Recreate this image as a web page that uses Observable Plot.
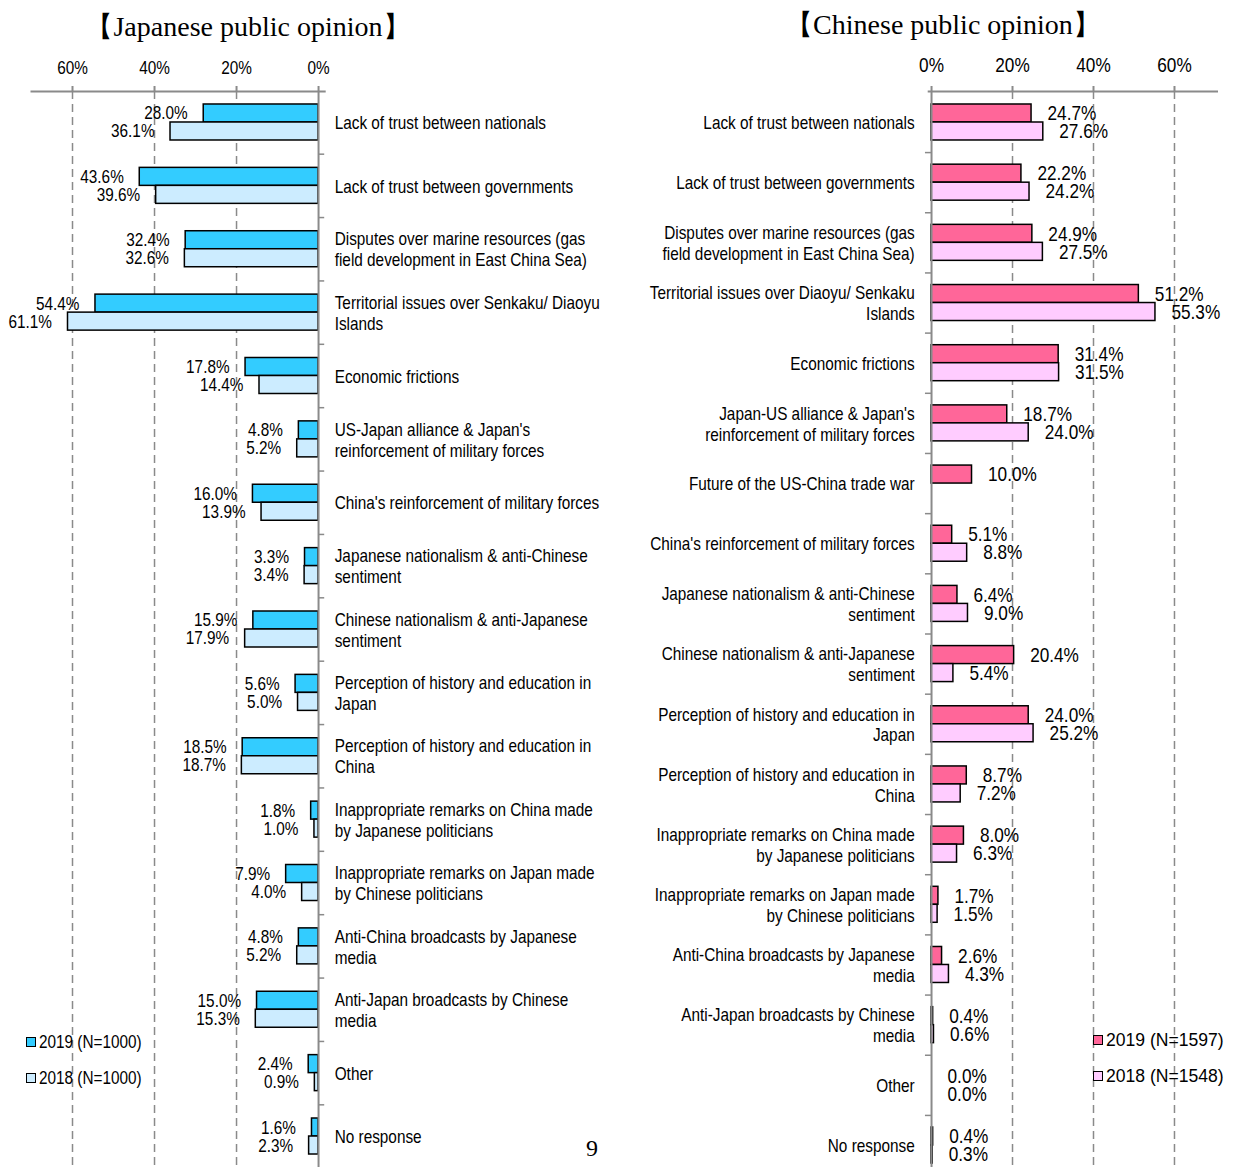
<!DOCTYPE html>
<html><head><meta charset="utf-8">
<script src="https://cdn.jsdelivr.net/npm/d3@7"></script>
<script src="https://cdn.jsdelivr.net/npm/@observablehq/plot@0.6"></script>
<style>
html,body{margin:0;padding:0;background:#fff;overflow:hidden;}
#wrap{position:relative;width:1236px;height:1167px;overflow:hidden;background:#fff;}
.title{position:absolute;font-family:"Liberation Serif","Times New Roman",serif;font-size:28px;color:#000;white-space:nowrap;transform:translate(-50%,-50%);line-height:1;}
.panel{position:absolute;top:0;}
.legend{position:absolute;font-family:"Liberation Sans",Arial,sans-serif;font-size:18.7px;color:#000;}
.item{display:flex;align-items:center;height:20px;margin-bottom:16px;white-space:nowrap;}
.sw{width:8px;height:8px;border:1.5px solid #000;margin-right:3px;flex:none;}
.nar{display:inline-block;transform-origin:left center;}
.page{position:absolute;font-family:"Liberation Serif","Times New Roman",serif;font-size:24px;transform:translate(-50%,-50%);line-height:1;}
</style></head>
<body><div id="wrap">
<div class="title" style="left:248px;top:27px">【Japanese public opinion】</div>
<div class="title" style="left:943px;top:25px">【Chinese public opinion】</div>
<div class="panel" id="left" style="left:0px"></div>
<div class="panel" id="right" style="left:620px"></div>
<div class="legend" id="legJ" style="left:26px;top:1032px"></div>
<div class="legend" id="legC" style="left:1093px;top:1030px"></div>
<div class="page" style="left:592px;top:1148px">9</div>
</div>
<script>
const FONT = '"Liberation Sans",Arial,sans-serif';
const FS = 18.7;
const NARROW = 0.82;

// Japanese public opinion
const catsJ = [
  "Lack of trust between nationals",
  "Lack of trust between governments",
  "Disputes over marine resources (gas\nfield development in East China Sea)",
  "Territorial issues over Senkaku/ Diaoyu\nIslands",
  "Economic frictions",
  "US-Japan alliance & Japan's\nreinforcement of military forces",
  "China's reinforcement of military forces",
  "Japanese nationalism & anti-Chinese\nsentiment",
  "Chinese nationalism & anti-Japanese\nsentiment",
  "Perception of history and education in\nJapan",
  "Perception of history and education in\nChina",
  "Inappropriate remarks on China made\nby Japanese politicians",
  "Inappropriate remarks on Japan made\nby Chinese politicians",
  "Anti-China broadcasts by Japanese\nmedia",
  "Anti-Japan broadcasts by Chinese\nmedia",
  "Other",
  "No response"
];
const j2019 = [28.0, 43.6, 32.4, 54.4, 17.8, 4.8, 16.0, 3.3, 15.9, 5.6, 18.5, 1.8, 7.9, 4.8, 15.0, 2.4, 1.6];
const j2018 = [36.1, 39.6, 32.6, 61.1, 14.4, 5.2, 13.9, 3.4, 17.9, 5.0, 18.7, 1.0, 4.0, 5.2, 15.3, 0.9, 2.3];

// Chinese public opinion
const catsC = [
  "Lack of trust between nationals",
  "Lack of trust between governments",
  "Disputes over marine resources (gas\nfield development in East China Sea)",
  "Territorial issues over Diaoyu/ Senkaku\nIslands",
  "Economic frictions",
  "Japan-US alliance & Japan's\nreinforcement of military forces",
  "Future of the US-China trade war",
  "China's reinforcement of military forces",
  "Japanese nationalism & anti-Chinese\nsentiment",
  "Chinese nationalism & anti-Japanese\nsentiment",
  "Perception of history and education in\nJapan",
  "Perception of history and education in\nChina",
  "Inappropriate remarks on China made\nby Japanese politicians",
  "Inappropriate remarks on Japan made\nby Chinese politicians",
  "Anti-China broadcasts by Japanese\nmedia",
  "Anti-Japan broadcasts by Chinese\nmedia",
  "Other",
  "No response"
];
const c2019 = [24.7, 22.2, 24.9, 51.2, 31.4, 18.7, 10.0, 5.1, 6.4, 20.4, 24.0, 8.7, 8.0, 1.7, 2.6, 0.4, 0.0, 0.4];
const c2018 = [27.6, 24.2, 27.5, 55.3, 31.5, 24.0, null, 8.8, 9.0, 5.4, 25.2, 7.2, 6.3, 1.5, 4.3, 0.6, 0.0, 0.3];

const xTicks = [0, 20, 40, 60];
const gridTicks = [20, 40, 60];
const yearsJ = ["2019 (N=1000)", "2018 (N=1000)"];
const yearsC = ["2019 (N=1597)", "2018 (N=1548)"];
const colJ = ["#33CCFF", "#CCECFF"];
const colC = ["#FF6699", "#FFCCFF"];

function rowsOf(cats, a, b) {
  return cats.map((c, i) => ({cat: c, v19: a[i], v18: b[i]}));
}
const fmt = v => v.toFixed(1) + "%";
const GRAY = "#8a8a8a";

function narrowText(svg) {
  svg.querySelectorAll("text").forEach(t => {
    const x = +t.getAttribute("x") || 0, y = +t.getAttribute("y") || 0;
    const tr = t.getAttribute("transform") || "";
    t.setAttribute("transform", `${tr} translate(${x},${y}) scale(${NARROW},1) translate(${-x},${-y})`);
  });
  return svg;
}

function panel({cats, a, b, cols, side, height, xDomain, mLeft, mRight, pInner, pOuter, step, valFS, tickFS, tickPad}) {
  const rows = rowsOf(cats, a, b);
  const r19 = rows.filter(d => d.v19 != null);
  const r18 = rows.filter(d => d.v18 != null);
  const left = side === "left";
  const svg = Plot.plot({
    width: 616 + (left ? 4 : 0),
    height,
    marginTop: 91, marginBottom: 0, marginLeft: mLeft, marginRight: mRight,
    style: {fontFamily: FONT, fontSize: FS + "px", background: "transparent", color: "#000", overflow: "visible"},
    x: {domain: xDomain, label: null},
    y: {domain: cats, paddingInner: pInner, paddingOuter: pOuter, round: false, label: null},
    marks: [
      Plot.ruleX(gridTicks, {x: d => d, stroke: GRAY, strokeWidth: 1.5, strokeDasharray: "8,5"}),
      Plot.barX(r19, {y: "cat", x: "v19", fill: cols[0], stroke: "#000", strokeWidth: 1.5, insetBottom: 18}),
      Plot.barX(r18, {y: "cat", x: "v18", fill: cols[1], stroke: "#000", strokeWidth: 1.5, insetTop: 18}),
      Plot.ruleX([0], {x: d => d, stroke: GRAY, strokeWidth: 2}),
      Plot.ruleY(cats, {y: d => d, x1: 0, x2: -1.5, dy: step / 2, stroke: GRAY, strokeWidth: 1.5}),
      Plot.frame({anchor: "top", stroke: GRAY, strokeWidth: 2}),
      Plot.axisX(xTicks, {anchor: "top", label: null, tickFormat: d => d + "%", tickSize: 6, tickPadding: tickPad, stroke: GRAY, strokeWidth: 2, fontSize: tickFS}),
      Plot.axisY({anchor: left ? "right" : "left", label: null, tickSize: 0, tickPadding: left ? 10 : 14, lineHeight: 1.12, fontSize: FS}),
      Plot.text(r19, {y: "cat", x: "v19", text: d => fmt(d.v19), dx: left ? -16 : 16, dy: -9, textAnchor: left ? "end" : "start", fontSize: valFS}),
      Plot.text(r18, {y: "cat", x: "v18", text: d => fmt(d.v18), dx: left ? -16 : 16, dy: 9, textAnchor: left ? "end" : "start", fontSize: valFS})
    ]
  });
  return narrowText(svg);
}

document.getElementById("left").appendChild(panel({
  cats: catsJ, a: j2019, b: j2018, cols: colJ, side: "left", height: 1167,
  xDomain: [70, -1.5], mLeft: 31, mRight: 295.8, pInner: 0.432, pOuter: 0.205, step: 63.38,
  valFS: FS, tickFS: FS, tickPad: 12
}));
document.getElementById("right").appendChild(panel({
  cats: catsC, a: c2019, b: c2018, cols: colC, side: "right", height: 1176,
  xDomain: [-0.7, 70.5], mLeft: 308.2, mRight: 19.5, pInner: 0.402, pOuter: 0.216, step: 60.18,
  valFS: 21, tickFS: 21, tickPad: 14
}));

function legend(id, labels, cols, sx) {
  const el = document.getElementById(id);
  labels.forEach((t, i) => {
    const it = document.createElement("div");
    it.className = "item";
    const sw = document.createElement("span");
    sw.className = "sw";
    sw.style.background = cols[i];
    const tx = document.createElement("span");
    tx.className = "nar";
    tx.style.transform = `scaleX(${sx})`;
    tx.textContent = t;
    it.appendChild(sw); it.appendChild(tx);
    el.appendChild(it);
  });
}
legend("legJ", yearsJ, colJ, 0.82);
legend("legC", yearsC, colC, 0.94);
</script>
</body></html>
